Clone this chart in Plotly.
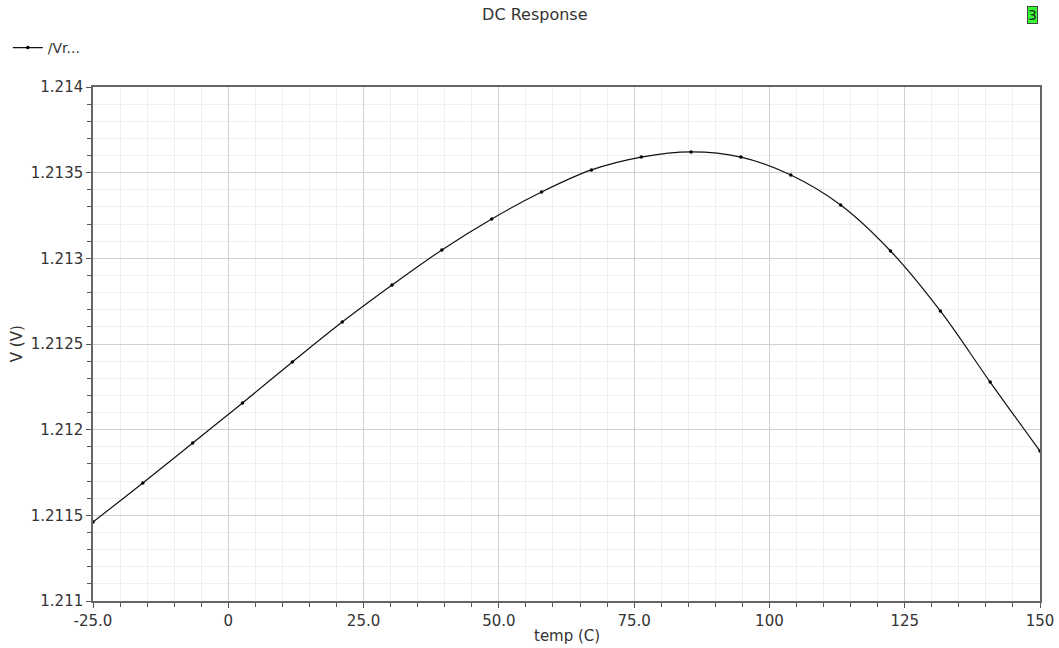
import plotly.graph_objects as go

temp = [-25.0, -15.79, -6.58, 2.63, 11.84, 21.05, 30.26, 39.47, 48.68, 57.89,
        67.11, 76.32, 85.53, 94.74, 103.95, 113.16, 122.37, 131.58, 140.79, 150.0]
vref = [1.211461, 1.211689, 1.211922, 1.212156, 1.212395, 1.212628, 1.212844,
        1.213049, 1.213230, 1.213387, 1.213516, 1.213591, 1.213621, 1.213591,
        1.213486, 1.213311, 1.213043, 1.212693, 1.212278, 1.211875]

x_ticks = [-25, 0, 25, 50, 75, 100, 125, 150]
x_labels = ["-25.0", "0", "25.0", "50.0", "75.0", "100", "125", "150"]
y_ticks = [1.211, 1.2115, 1.212, 1.2125, 1.213, 1.2135, 1.214]
y_labels = ["1.211", "1.2115", "1.212", "1.2125", "1.213", "1.2135", "1.214"]

font = "DejaVu Sans"
txt = "#333333"

fig = go.Figure()
fig.add_trace(go.Scatter(
    x=temp, y=vref, mode="lines+markers", name="/Vr...",
    line=dict(color="#111111", width=1.2, shape="spline", smoothing=1.0),
    marker=dict(color="#000000", size=3.5),
))

axis_common = dict(
    showline=True, linecolor="#666666", linewidth=1.5, mirror=True,
    showgrid=True, gridcolor="#d0d0d0", gridwidth=1,
    ticks="outside", ticklen=5, tickcolor="#555555", tickwidth=1,
    zeroline=False, automargin=False,
    tickfont=dict(family=font, size=15, color=txt),
)

fig.update_layout(
    width=1059, height=648,
    paper_bgcolor="white", plot_bgcolor="white",
    margin=dict(l=93, r=19, t=87, b=47, autoexpand=False),
    font=dict(family=font, size=14, color=txt),
    title=dict(text="DC Response", x=0.505, xanchor="center", y=0.978, yanchor="middle",
               font=dict(family=font, size=16, color=txt)),
    showlegend=True,
    legend=dict(x=-0.090, y=1.076, xanchor="left", yanchor="middle",
                bgcolor="rgba(0,0,0,0)", itemwidth=30,
                font=dict(family=font, size=14, color=txt)),
    xaxis=dict(range=[-25, 150], tickvals=x_ticks, ticktext=x_labels,
               minor=dict(dtick=5, tick0=0, showgrid=True, gridcolor="#efefef",
                          ticks="outside", ticklen=4, tickcolor="#555555"),
               **axis_common),
    yaxis=dict(range=[1.211, 1.214], tickvals=y_ticks, ticktext=y_labels,
               minor=dict(dtick=0.0001, tick0=1.211, showgrid=True, gridcolor="#efefef",
                          ticks="outside", ticklen=4, tickcolor="#555555"),
               **axis_common),
)

# axis titles
fig.add_annotation(xref="paper", yref="paper", x=0.5, y=-0.068, xanchor="center",
                   yanchor="middle", text="temp (C)", showarrow=False,
                   font=dict(family=font, size=15, color=txt))
fig.add_annotation(xref="paper", yref="paper", x=-0.080, y=0.5, xanchor="center",
                   yanchor="middle", text="V (V)", textangle=-90, showarrow=False,
                   font=dict(family=font, size=15, color=txt))

fig.add_annotation(
    xref="paper", yref="paper", x=0.9926, y=1.140, xanchor="center", yanchor="middle",
    text="3", showarrow=False, bgcolor="#33ff33", bordercolor="#444444", borderwidth=1,
    borderpad=0, font=dict(family=font, size=14, color="#222222"),
)

fig.write_html("out.html", config={"displayModeBar": False},
               post_script="document.body.style.margin='0';")
